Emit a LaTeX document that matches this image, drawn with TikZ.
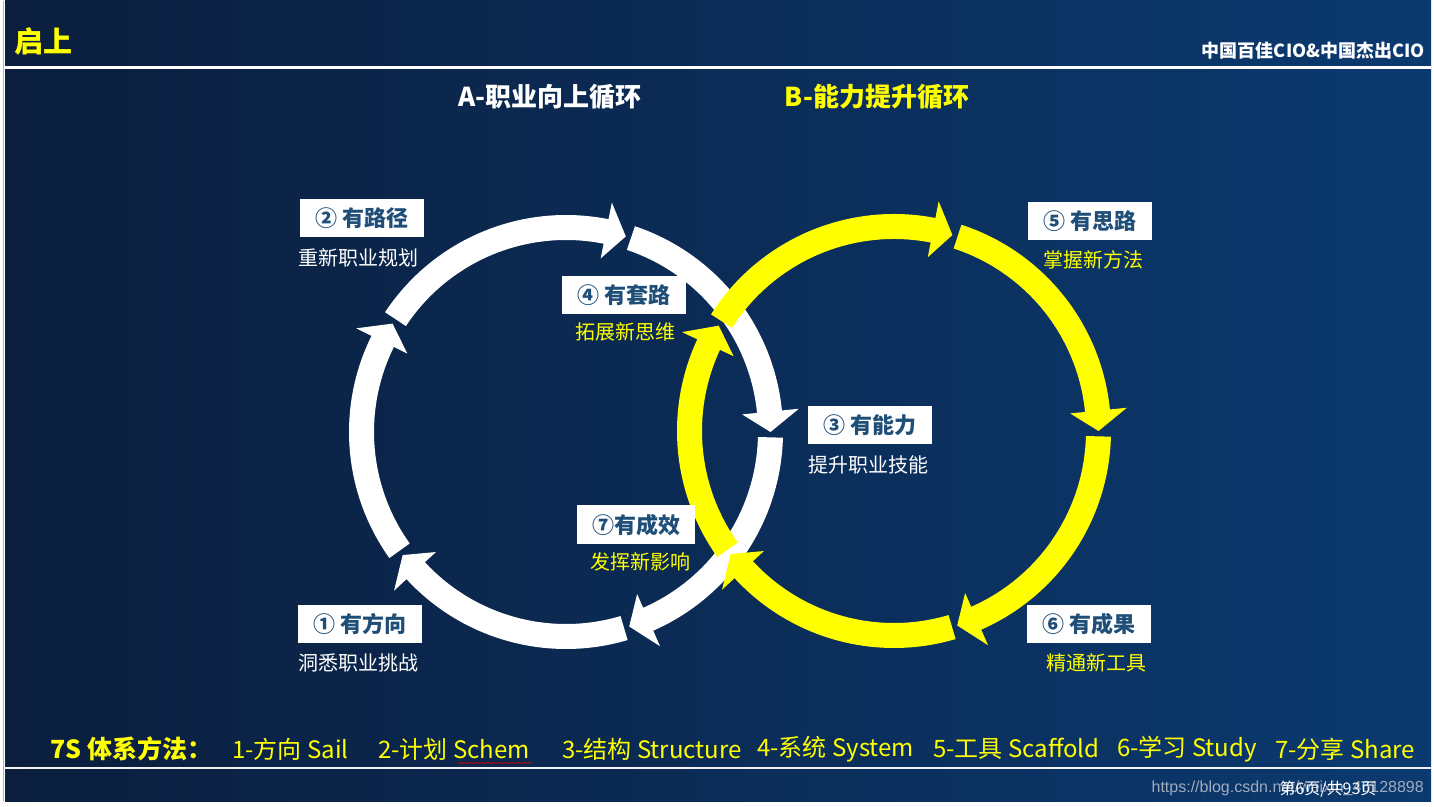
\documentclass[tikz,border=0pt]{standalone}
\usepackage{fontspec}
\setmainfont{Noto Sans CJK SC}
\newfontfamily\wmfont{Liberation Sans}
\usepackage{graphicx}
\usetikzlibrary{calc,decorations.pathmorphing}
\definecolor{boxblue}{RGB}{31,78,121}
\definecolor{ylw}{RGB}{255,255,0}
\definecolor{bgL}{RGB}{11,30,61}
\definecolor{bgR}{RGB}{11,58,112}
\definecolor{wmgray}{RGB}{160,172,190}
\def\ringRo{217pt}\def\ringRi{192pt}\def\ringRm{204.5pt}\def\ringHo{234pt}\def\ringHi{177pt}
% #1 centre, #2 start angle, #3 head-back angle, #4 tip angle, #5 colour
\newcommand\ringarrow[5]{%
  \fill[#5] ($(#1)+(#2:\ringRo)$) arc[start angle=#2, end angle=#3, radius=\ringRo]
    -- ($(#1)+(#3:\ringHo)$) -- ($(#1)+(#4:\ringRm)$) -- ($(#1)+(#3:\ringHi)$)
    -- ($(#1)+(#3:\ringRi)$) arc[start angle=#3, end angle=#2, radius=\ringRi] -- cycle;}
\begin{document}
\begin{tikzpicture}[x=1pt,y=1pt,
  lbox/.style={fill=white, text=boxblue, font=\fontsize{22}{24}\selectfont\bfseries,
    minimum width=124pt, minimum height=38pt, inner sep=0pt},
  wsub/.style={text=white, font=\fontsize{20}{22}\selectfont, inner sep=0pt},
  ysub/.style={wsub, text=ylw},
  ttl/.style={font=\fontsize{26}{28}\selectfont\bfseries, inner sep=0pt},
  btm/.style={anchor=west, text=ylw, font=\fontsize{24}{26}\selectfont, inner sep=0pt}]
\useasboundingbox (0,0) rectangle (1434,806);
\fill[white] (0,0) rectangle (1434,806);
\shade[left color=bgL, right color=bgR] (5,5) rectangle (1431,805);
\draw[gray!60, line width=1pt] (3,5) -- (3,805);
% header and footer rules
\coordinate (hl) at (5,738.5); \coordinate (hr) at (1431,738.5);
\draw[white, line width=2.5pt] (hl) -- (hr);
\coordinate (fl) at (5,38); \coordinate (fr) at (1431,38);
\draw[white!90!gray, line width=2.5pt] (fl) -- (fr);
% centres
\coordinate (cw) at (566,374);
\coordinate (cy) at (894,375);
% white cycle
\ringarrow{cw}{215.5}{153.7}{148}{white}
\ringarrow{cw}{146.5}{78.7}{73}{white}
\ringarrow{cw}{71.5}{5.7}{0}{white}
\ringarrow{cw}{-1.5}{-66.3}{-72}{white}
\ringarrow{cw}{-73.5}{-137.3}{-143}{white}
% yellow cycle
\ringarrow{cy}{215.5}{155}{149}{ylw}
\ringarrow{cy}{147.5}{79}{73.4}{ylw}
\ringarrow{cy}{71.9}{5.7}{0}{ylw}
\ringarrow{cy}{-1.5}{-66.3}{-72}{ylw}
\ringarrow{cy}{-73.5}{-137.3}{-143}{ylw}
% titles
\node[font=\fontsize{29}{30}\selectfont\bfseries, text=ylw, anchor=west, inner sep=0pt] (t0) at (14,764) {启上};
\node[font=\fontsize{18}{20}\selectfont\bfseries, text=white, anchor=east, inner sep=0pt] (tr) at (1425,755) {中国百佳CIO\&中国杰出CIO};
\node[ttl, text=white] (tA) at (550,709) {A-职业向上循环};
\node[ttl, text=ylw] (tB) at (877,709) {B-能力提升循环};
% labels
\node[lbox] (box2) at (362,588) {② 有路径};
\node[wsub] (sub2) at (358,548) {重新职业规划};
\node[lbox] (box4) at (624,511) {④ 有套路};
\node[ysub] (sub4) at (625,474) {拓展新思维};
\node[lbox, minimum width=118pt, minimum height=39pt] (box7) at (636,281) {⑦有成效};
\node[ysub] (sub7) at (640,244) {发挥新影响};
\node[lbox] (box1) at (360,182) {① 有方向};
\node[wsub] (sub1) at (358,143) {洞悉职业挑战};
\node[lbox] (box3) at (870,381) {③ 有能力};
\node[wsub] (sub3) at (868,341) {提升职业技能};
\node[lbox] (box5) at (1090,585) {⑤ 有思路};
\node[ysub] (sub5) at (1093,546) {掌握新方法};
\node[lbox] (box6) at (1089,182) {⑥ 有成果};
\node[ysub] (sub6) at (1096,143) {精通新工具};
% bottom line
\node[btm, font=\fontsize{25}{27}\selectfont\bfseries] (b0) at (50,57) {7S 体系方法：};
\node[btm] (b1) at (232,57) {1-方向 Sail};
\node[btm] (b2) at (378,57) {2-计划 Schem};
\node[btm] (b3) at (562,57) {3-结构 Structure};
\node[btm] (b4) at (757,57) {4-系统 System};
\node[btm] (b5) at (933,57) {5-工具 Scaffold};
\node[btm] (b6) at (1117,57) {6-学习 Study};
\node[btm] (b7) at (1275,57) {7-分享 Share};
\coordinate (sqa) at (458,43); \coordinate (sqb) at (532,43);
\draw[red!80!black, line width=0.6pt, decorate, decoration={snake, amplitude=0.8pt, segment length=3pt}] (sqa) -- (sqb);
% watermark and page number
\node[anchor=east, font=\wmfont\fontsize{16}{18}\selectfont, text=wmgray, inner sep=0pt] (wm) at (1424,18) {https://blog.csdn.net/weixin\_46128898};
\node[font=\fontsize{16}{18}\selectfont, text=white, inner sep=0pt] (pg) at (1328,17) {第6页/共93页};
\end{tikzpicture}
\end{document}
